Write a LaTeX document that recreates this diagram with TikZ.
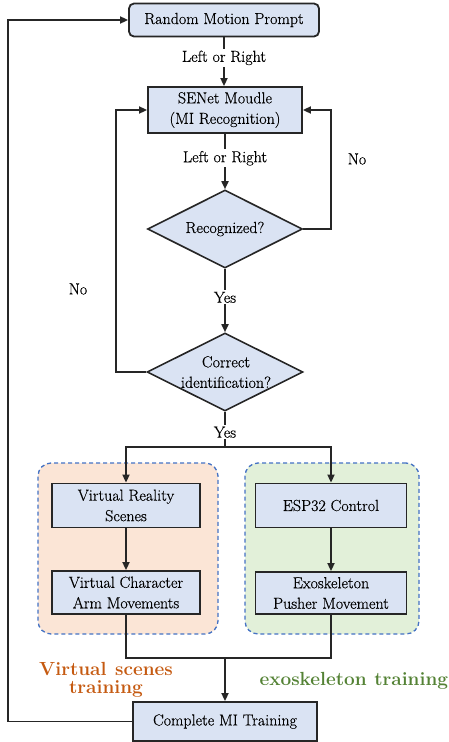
\documentclass[tikz,border=0pt]{standalone}
\usepackage{fontspec}
\setmainfont{Latin Modern Roman}[UprightFeatures={FakeBold=0.4}]
\usetikzlibrary{shapes.geometric,arrows.meta}
\definecolor{boxblue}{HTML}{DAE3F3}
\definecolor{linec}{HTML}{262626}
\definecolor{orfill}{HTML}{FBE5D6}
\definecolor{grfill}{HTML}{E2F0D9}
\definecolor{dashblue}{HTML}{4472C4}
\definecolor{ortext}{HTML}{C55A11}
\definecolor{grtext}{HTML}{548235}
\begin{document}
\begin{tikzpicture}[x=1pt,y=-1pt,
  txt/.style={font=\fontsize{16}{20.5}\selectfont, text=black},
  box/.style={txt, draw=linec, fill=boxblue, line width=1.8pt, align=center, inner sep=0pt},
  dia/.style={draw=linec, fill=boxblue, line width=1.6pt, diamond, inner sep=0pt},
  region/.style={draw=dashblue, dashed, dash pattern=on 4pt off 3pt, line width=1.3pt, rounded corners=13pt, inner sep=0pt},
  ln/.style={draw=linec, line width=1.7pt},
  arr/.style={ln, -{Triangle[length=8pt,width=7pt]}},
  lbl/.style={txt, fill=white, inner sep=1.5pt},
  big/.style={font=\fontsize{19}{17.5}\selectfont\bfseries, align=center}
]
\useasboundingbox (0,0) rectangle (448,742);
% regions
\node[region, fill=orfill, minimum width=180pt, minimum height=171pt] (reg1) at (128,548.5) {};
\node[region, fill=grfill, minimum width=174pt, minimum height=171pt] (reg2) at (332,548.5) {};
% boxes
\node[box, rounded corners=5pt, minimum width=190pt, minimum height=33pt] (rmp) at (224,20) {Random Motion Prompt};
\node[box, minimum width=154pt, minimum height=46pt] (sen) at (225,110) {SENet Moudle\\(MI Recognition)};
\node[dia, minimum width=155pt, minimum height=78pt] (rec) at (225,229) {};
\node[txt] (rect) at (rec) {Recognized?};
\node[dia, minimum width=156pt, minimum height=78pt] (cor) at (225,372) {};
\node[txt, align=center] (cort) at (226,372) {Correct\\identification?};
\node[box, minimum width=148pt, minimum height=44pt] (vr) at (126,505.5) {Virtual Reality\\Scenes};
\node[box, minimum width=148pt, minimum height=43pt] (vca) at (126,592.5) {Virtual Character\\Arm Movements};
\node[box, minimum width=151pt, minimum height=44pt] (esp) at (331,505.5) {ESP32 Control};
\node[box, minimum width=151pt, minimum height=42pt] (exo) at (331,593) {Exoskeleton\\Pusher Movement};
\node[box, minimum width=184pt, minimum height=39pt] (comp) at (225,721.5) {Complete MI Training};
% free labels
\node[txt] (no1) at (357,159) {No};
\node[txt] (no2) at (78,289) {No};
\node[big, text=ortext] (vst) at (106,680) {Virtual\hspace{0.45em}scenes\\training};
\node[big, text=grtext, anchor=west] (ext) at (256,681) {exoskeleton\hspace{0.4em}training};
% connectors
\coordinate (split) at (225,447);
\coordinate (merge) at (225,658);
\draw[arr] (rmp.south) -- node[lbl, pos=0.42] (l1) {Left or Right} (rmp.south |- sen.north);
\draw[arr] (sen.south) -- node[lbl, pos=0.44] (l2) {Left or Right} (rec.north);
\draw[arr] (rec.south) -- node[lbl, pos=0.45] (y1) {Yes} (cor.north);
\draw[ln] (cor.south) -- node[lbl, pos=0.58] (y2) {Yes} (split);
\draw[arr] (rec.east) -- ++(28,0) |- (sen.east);
\draw[arr] (cor.west) -- ++(-30,0) |- (sen.west);
\draw[arr] (split) -| (vr.north);
\draw[arr] (split) -| (esp.north);
\draw[arr] (vr.south) -- (vca.north);
\draw[arr] (esp.south) -- (exo.north);
\draw[ln] (vca.south) |- (merge);
\draw[ln] (exo.south) |- (merge);
\draw[arr] (merge) -- (comp.north);
\draw[arr] (comp.west) -- ++(-124,0) |- (rmp.west);
\end{tikzpicture}
\end{document}
